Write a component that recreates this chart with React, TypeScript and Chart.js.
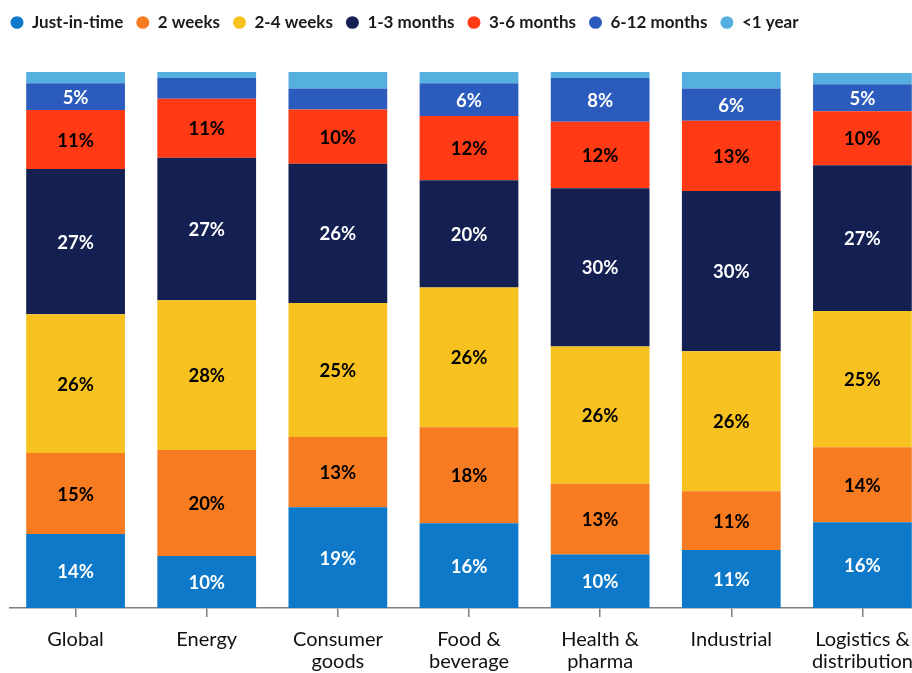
import React, { useEffect, useRef } from "react";
import { Chart, registerables } from "chart.js";

Chart.register(...registerables);

const categories: (string | string[])[] = [
  "Global",
  "Energy",
  ["Consumer", "goods"],
  ["Food &", "beverage"],
  ["Health &", "pharma"],
  "Industrial",
  ["Logistics &", "distribution"],
];

const seriesNames = ["Just-in-time", "2 weeks", "2-4 weeks", "1-3 months", "3-6 months", "6-12 months", "<1 year"];

const justInTime = [13.8, 9.7, 18.8, 15.8, 10.0, 10.8, 16.0];
const twoWeeks = [15.1, 19.8, 13.1, 17.9, 13.2, 11.0, 14.0];
const twoToFourWeeks = [25.9, 27.9, 25.0, 26.1, 25.6, 26.1, 25.4];
const oneToThreeMonths = [27.1, 26.6, 26.0, 20.0, 29.5, 29.9, 27.2];
const threeToSixMonths = [11.0, 11.0, 10.1, 12.0, 12.4, 13.1, 10.1];
const sixToTwelveMonths = [5.0, 3.9, 3.9, 6.1, 8.2, 6.0, 5.0];
const underOneYear = [2.1, 1.1, 3.1, 2.1, 1.1, 3.1, 2.1];

const seriesColors = ["#0d79c8", "#f77b20", "#f7c220", "#152052", "#ff3a14", "#2c5bbe", "#55afdf"];
const labelColors = ["#ffffff", "#000000", "#000000", "#ffffff", "#000000", "#ffffff", "#ffffff"];

const FONT = "Lato, 'Open Sans', 'DejaVu Sans', sans-serif";

const barLabels = {
  id: "barLabels",
  afterDatasetsDraw(chart: any) {
    const ctx = chart.ctx;
    ctx.save();
    ctx.font = `bold 18.5px ${FONT}`;
    ctx.textAlign = "center";
    ctx.textBaseline = "middle";
    chart.data.datasets.forEach((ds: any, di: number) => {
      const meta = chart.getDatasetMeta(di);
      meta.data.forEach((bar: any, i: number) => {
        const v = Math.round(ds.data[i]);
        if (v < 5 || di === 6) return;
        const y = (bar.y + bar.base) / 2;
        ctx.fillStyle = labelColors[di];
        ctx.fillText(`${v}%`, bar.x, y + 1);
      });
    });
    ctx.restore();
  },
};

const legendTweak = {
  id: "legendTweak",
  beforeInit(chart: any) {
    const legend = chart.legend;
    if (!legend) return;
    const orig = legend.fit;
    legend.fit = function () {
      orig.call(this);
      this.height = 71;
    };
  },
  afterLayout(chart: any) {
    const legend = chart.legend;
    if (!legend) return;
    legend.left -= 12.5;
    legend.right -= 12.5;
  },
};

export default function App() {
  const ref = useRef<HTMLCanvasElement | null>(null);
  useEffect(() => {
    if (!ref.current) return;
    const all = [justInTime, twoWeeks, twoToFourWeeks, oneToThreeMonths, threeToSixMonths, sixToTwelveMonths, underOneYear];
    const chart = new Chart(ref.current, {
      type: "bar",
      data: {
        labels: categories,
        datasets: all.map((d, i) => ({
          label: seriesNames[i],
          data: d,
          backgroundColor: seriesColors[i],
          borderWidth: 0,
          categoryPercentage: 1,
          barPercentage: 0.753,
        })),
      },
      options: {
        responsive: false,
        animation: false,
        layout: { padding: { left: 10, right: 2, top: 1, bottom: 15 } },
        plugins: {
          legend: {
            position: "top",
            align: "start",
            labels: {
              usePointStyle: true,
              pointStyle: "circle",
              boxHeight: 9,
              boxWidth: 13,
              pointStyleWidth: 13,
              padding: 13,
              color: "#1a1a1a",
              font: { family: FONT, size: 17, weight: "bold" },
            },
          },
          tooltip: { enabled: false },
        },
        scales: {
          x: {
            stacked: true,
            border: { display: true, color: "#808080", width: 1.5 },
            grid: { display: true, offset: false, drawOnChartArea: false, drawTicks: true, tickLength: 9, color: "#808080", lineWidth: 1.5 },
            ticks: {
              color: "#111111",
              padding: 12,
              maxRotation: 0,
              autoSkip: false,
              font: { family: FONT, size: 20, lineHeight: 1.1 },
            },
          },
          y: {
            stacked: true,
            display: false,
            min: 0,
            max: 100,
          },
        },
      },
      plugins: [barLabels, legendTweak],
    });
    return () => chart.destroy();
  }, []);
  return (
    <div style={{ position: "fixed", left: 0, top: 0, width: 912, height: 673, overflow: "hidden", background: "#fff" }}>
      <canvas ref={ref} width={930} height={700} style={{ width: 930, height: 700, display: "block" }} />
    </div>
  );
}
